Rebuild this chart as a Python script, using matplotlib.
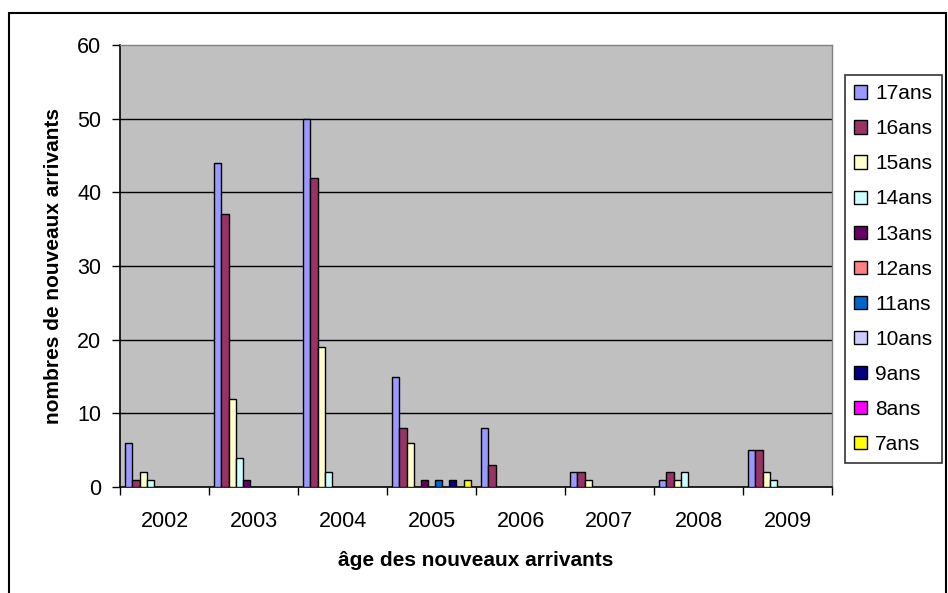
import matplotlib
matplotlib.use("Agg")
import matplotlib.pyplot as plt
import numpy as np
from matplotlib.patches import Rectangle

years = ["2002", "2003", "2004", "2005", "2006", "2007", "2008", "2009"]
series_names = ["17ans", "16ans", "15ans", "14ans", "13ans", "12ans",
                "11ans", "10ans", "9ans", "8ans", "7ans"]
colors = ["#9999FF", "#993366", "#FFFFCC", "#CCFFFF", "#660066", "#FF8080",
          "#0066CC", "#CCCCFF", "#000080", "#FF00FF", "#FFFF00"]

v17 = [6, 44, 50, 15, 8, 2, 1, 5]
v16 = [1, 37, 42, 8, 3, 2, 2, 5]
v15 = [2, 12, 19, 6, 0, 1, 1, 2]
v14 = [1, 4, 2, 0, 0, 0, 2, 1]
v13 = [0, 1, 0, 1, 0, 0, 0, 0]
v12 = [0, 0, 0, 0, 0, 0, 0, 0]
v11 = [0, 0, 0, 1, 0, 0, 0, 0]
v10 = [0, 0, 0, 0, 0, 0, 0, 0]
v9 = [0, 0, 0, 1, 0, 0, 0, 0]
v8 = [0, 0, 0, 0, 0, 0, 0, 0]
v7 = [0, 0, 0, 1, 0, 0, 0, 0]
series_values = [v17, v16, v15, v14, v13, v12, v11, v10, v9, v8, v7]

plt.rcParams['font.family'] = ['Liberation Sans', 'DejaVu Sans']

W, H = 948, 593
fig = plt.figure(figsize=(W / 100, H / 100), dpi=100)
fig.patches.append(Rectangle((9 / W, -0.1), (946 - 9) / W, 1.1 - 13 / H,
                             transform=fig.transFigure, fill=False,
                             edgecolor="black", linewidth=1.5))

left, right, top, bottom = 120, 832, 45, 487
ax = fig.add_axes([left / W, 1 - bottom / H, (right - left) / W, (bottom - top) / H])
ax.set_facecolor("#C0C0C0")

n_cat = len(years)
n_ser = len(series_names)
w = 1.0 / (n_ser + 1.5)
x0 = np.arange(n_cat)
handles = []
for j, (name, vals, col) in enumerate(zip(series_names, series_values, colors)):
    vals = np.array(vals, dtype=float)
    xs = x0 + 0.75 * w + j * w
    mask = vals > 0
    ax.bar(xs[mask], vals[mask], width=w, align="edge", color=col,
           edgecolor="black", linewidth=1.0, zorder=3)
    handles.append(Rectangle((0, 0), 1, 1, facecolor=col, edgecolor="black", linewidth=1.0))

ax.set_xlim(0, n_cat)
ax.set_ylim(0, 60)
ax.set_yticks(range(0, 61, 10))
for yv in range(10, 60, 10):
    ax.axhline(yv, color="black", linewidth=1.0, zorder=1)

ax.set_xticks(range(0, n_cat + 1))
ax.set_xticklabels([])
ax.set_xticks(x0 + 0.5, minor=True)
ax.set_xticklabels(years, minor=True)
ax.tick_params(axis="x", which="major", direction="out", length=5.5, width=1, color="black")
ax.tick_params(axis="x", which="minor", length=0, pad=17, labelsize=15.5)
ax.tick_params(axis="y", direction="out", length=5.5, width=1, labelsize=15.5, pad=8)

for s in ["top", "right"]:
    ax.spines[s].set_color("#808080")
    ax.spines[s].set_linewidth(1.0)
for s in ["left", "bottom"]:
    ax.spines[s].set_color("black")
    ax.spines[s].set_linewidth(1.2)

ax.set_xlabel("âge des nouveaux arrivants", fontsize=15, fontweight="bold", labelpad=14)
ax.set_ylabel("nombres de nouveaux arrivants", fontsize=15, fontweight="bold", labelpad=10)

leg = fig.legend(handles, series_names, loc="upper left",
                 bbox_to_anchor=(845 / W, 1 - 75 / H), fontsize=15,
                 frameon=True, fancybox=False, shadow=False,
                 handlelength=0.6, handleheight=0.6, handletextpad=0.4,
                 labelspacing=0.77, borderpad=0.45, borderaxespad=0)
leg.get_frame().set_edgecolor("black")
leg.get_frame().set_linewidth(1.2)

fig.savefig("out.png", dpi=100)
